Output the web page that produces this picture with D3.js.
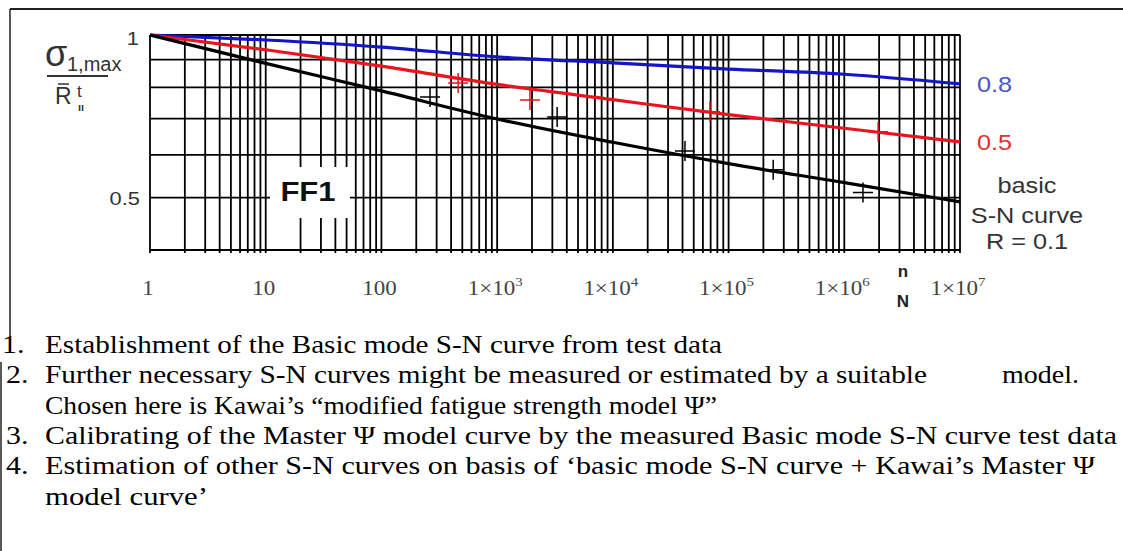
<!DOCTYPE html>
<html>
<head>
<meta charset="utf-8">
<script src="https://cdn.jsdelivr.net/npm/d3@7"></script>
<style>
  body { margin: 0; background: #fff; }
  /* the source picture is a little stretched sideways */
  .wide { transform-box: fill-box; transform: scaleX(1.15); }
  .wide.mid { transform-origin: center; }
  .wide.lft { transform-origin: left center; }
  .wide.rgt { transform-origin: right center; }
</style>
</head>
<body>
<div id="chart"></div>
<script>
// ---------- data ----------
// curve points at each decade of N
var curveN   = [1, 10, 100, 1e3, 1e4, 1e5, 1e6, 1e7];
var basicS   = [1, 0.886, 0.788, 0.699, 0.633, 0.578, 0.533, 0.491];  // R = 0.1 (black)
var r05S     = [1, 0.939, 0.876, 0.810, 0.759, 0.712, 0.672, 0.634];  // R = 0.5 (red)
var r08S     = [1, 0.979, 0.950, 0.911, 0.888, 0.865, 0.846, 0.812];  // R = 0.8 (blue)

// measured test points (crosses)
var basicTestN = [263, 3300, 42000, 243000, 1450000];
var basicTestS = [0.768, 0.705, 0.610, 0.563, 0.511];
var r05TestN   = [460, 1920, 69000, 1960000];
var r05TestS   = [0.815, 0.758, 0.721, 0.662];

var yGrid       = [0.4, 0.5, 0.6, 0.7, 0.8, 0.9, 1];
var yTickLabels = [{v: 1, t: "1"}, {v: 0.5, t: "0.5"}];
var xTickValues = [1, 10, 100, 1e3, 1e4, 1e5, 1e6, 1e7];
var xTickBase   = ["1", "10", "100", "1×10", "1×10", "1×10", "1×10", "1×10"];
var xTickExp    = ["", "", "", "3", "4", "5", "6", "7"];

var seriesNames  = ["basic", "r05", "r08"];
var seriesLabels = ["", "0.5", "0.8"];

var noteNums  = ["1.", "2.", "", "3.", "4.", ""];
var noteLines = [
  "Establishment of the Basic mode S-N curve from test data",
  "Further necessary S-N curves might be measured or estimated by a suitable",
  "Chosen here is Kawai\u2019s \u201cmodified fatigue strength model \u03a8\u201d",
  "Calibrating of the Master \u03a8 model curve by the measured Basic mode S-N curve test data",
  "Estimation of other S-N curves on basis of \u2018basic mode S-N curve + Kawai\u2019s Master \u03a8",
  "model curve\u2019"
];
// width each line takes in the picture
var noteWidths = [677, 882, 672, 1072, 1050, 163];

// ---------- layout ----------
var W = 1123, H = 551;
var plot = {left: 150, right: 960, top: 35, bottom: 250};
var sans = "'Liberation Sans', Arial, sans-serif";
var serif = "'Liberation Serif', 'Times New Roman', serif";
var blue = "#1414c8", red = "#e8141e", ink = "#333";

var svg = d3.select("#chart")
  .append("svg")
    .attr("width", W)
    .attr("height", H);

svg.append("rect").attr("width", W).attr("height", H).attr("fill", "#fff");

var x = d3.scaleLog()
  .domain([1, 1e7])
  .range([plot.left, plot.right]);

var y = d3.scaleLog()
  .domain([0.4, 1])
  .range([plot.bottom, plot.top]);

// frame of the figure
svg.append("line")
  .attr("x1", 10).attr("x2", W).attr("y1", 9).attr("y2", 9)
  .attr("stroke", "#222").attr("stroke-width", 2);
svg.append("line")
  .attr("x1", 10).attr("x2", 10).attr("y1", 9).attr("y2", 338)
  .attr("stroke", "#222").attr("stroke-width", 1.5);
svg.append("line")
  .attr("x1", 1).attr("x2", 1).attr("y1", 362).attr("y2", H)
  .attr("stroke", "#222").attr("stroke-width", 1.5);

// grid
var grid = svg.append("g").attr("stroke", "#000").attr("stroke-width", 1.8);

grid.selectAll("line.v")
  .data(x.ticks())
  .enter()
  .append("line")
    .attr("class", "v")
    .attr("x1", function(d) { return x(d) })
    .attr("x2", function(d) { return x(d) })
    .attr("y1", plot.top)
    .attr("y2", plot.bottom + 3);

grid.selectAll("line.h")
  .data(yGrid)
  .enter()
  .append("line")
    .attr("class", "h")
    .attr("x1", plot.left)
    .attr("x2", plot.right)
    .attr("y1", function(d) { return y(d) })
    .attr("y2", function(d) { return y(d) });

// white patch behind the FF1 label
svg.append("rect")
  .attr("x", 270).attr("y", 167)
  .attr("width", 80).attr("height", 51)
  .attr("fill", "#fff");

svg.append("text")
  .attr("class", "wide mid")
  .attr("x", 308).attr("y", 201)
  .attr("text-anchor", "middle")
  .style("font-family", sans)
  .style("font-weight", "bold")
  .style("font-size", "27px")
  .style("fill", "#111")
  .text("FF1");

// curves
var line = d3.line()
  .x(function(d) { return x(d.n) })
  .y(function(d) { return y(d.s) })
  .curve(d3.curveMonotoneX);

var curveData = [
  {name: "r08", color: blue, values: curveN.map(function(n, i) { return {n: n, s: r08S[i]} })},
  {name: "r05", color: red,  values: curveN.map(function(n, i) { return {n: n, s: r05S[i]} })},
  {name: "basic", color: "#000", values: curveN.map(function(n, i) { return {n: n, s: basicS[i]} })}
];

svg.selectAll("path.curve")
  .data(curveData)
  .enter()
  .append("path")
    .attr("class", function(d) { return "curve " + d.name })
    .attr("d", function(d) { return line(d.values) })
    .attr("fill", "none")
    .attr("stroke", function(d) { return d.color })
    .attr("stroke-width", 3.2);

// test data crosses
var testData = basicTestN.map(function(n, i) { return {n: n, s: basicTestS[i], c: "#000"} })
  .concat(r05TestN.map(function(n, i) { return {n: n, s: r05TestS[i], c: red} }));

svg.selectAll("path.cross")
  .data(testData)
  .enter()
  .append("path")
    .attr("class", "cross")
    .attr("d", function(d) {
      var cx = x(d.n), cy = y(d.s);
      return "M" + (cx - 10) + "," + cy + "H" + (cx + 10) + "M" + cx + "," + (cy - 10) + "V" + (cy + 10);
    })
    .attr("stroke", function(d) { return d.c })
    .attr("stroke-width", 1.5);

// y tick labels
svg.selectAll("text.ylab")
  .data(yTickLabels)
  .enter()
  .append("text")
    .attr("class", "ylab wide rgt")
    .attr("x", function(d) { return d.v === 1 ? 139 : 140 })
    .attr("y", function(d) { return y(d.v) + (d.v === 1 ? 10 : 7) })
    .attr("text-anchor", "end")
    .style("font-family", sans)
    .style("font-size", "19px")
    .style("fill", ink)
    .text(function(d) { return d.t });

// x tick labels (Mathcad style 1x10^n)
var xl = svg.selectAll("text.xlab")
  .data(xTickValues)
  .enter()
  .append("text")
    .attr("class", "xlab wide mid")
    .attr("x", function(d) { return x(d) - 2 })
    .attr("y", 295)
    .attr("text-anchor", "middle")
    .style("font-family", serif)
    .style("font-size", "20px")
    .style("fill", "#444");
xl.append("tspan").text(function(d, i) { return xTickBase[i] });
xl.append("tspan")
  .attr("dy", -9)
  .style("font-size", "13px")
  .text(function(d, i) { return xTickExp[i] });

// n / N label
svg.append("text").attr("x", 903).attr("y", 277).attr("text-anchor", "middle")
  .style("font-family", sans).style("font-weight", "bold").style("font-size", "17px")
  .style("fill", "#222").text("n");
svg.append("text").attr("x", 903).attr("y", 307).attr("text-anchor", "middle")
  .style("font-family", sans).style("font-weight", "bold").style("font-size", "17px")
  .style("fill", "#222").text("N");

// y axis title: sigma_1,max / R_II^t
var yt = svg.append("g").style("font-family", sans).style("fill", ink);
yt.append("text").attr("x", 45).attr("y", 66).style("font-size", "36px").text("\u03c3");
yt.append("text").attr("x", 67).attr("y", 71).style("font-size", "20px").text("1,max");
yt.append("line").attr("x1", 47).attr("x2", 108).attr("y1", 76).attr("y2", 76)
  .attr("stroke", ink).attr("stroke-width", 2);
yt.append("text").attr("x", 55).attr("y", 104).style("font-size", "23px").text("R");
yt.append("line").attr("x1", 58).attr("x2", 69).attr("y1", 84).attr("y2", 84)
  .attr("stroke", ink).attr("stroke-width", 1.5);
yt.append("text").attr("x", 77).attr("y", 97).style("font-size", "17px").text("t");
yt.append("text").attr("x", 78).attr("y", 111).style("font-size", "11px").style("font-weight", "bold").text("ıı");

// curve labels on the right
svg.selectAll("text.clab")
  .data(curveData.filter(function(d) { return d.name !== "basic" }))
  .enter()
  .append("text")
    .attr("class", "clab wide lft")
    .attr("x", 977)
    .attr("y", function(d) { return y(d.values[d.values.length - 1].s) + 8 })
    .style("font-family", sans)
    .style("font-size", "22px")
    .style("fill", function(d) { return d.name === "r08" ? "#4a55c8" : "#e43030" })
    .text(function(d) { return seriesLabels[seriesNames.indexOf(d.name)] });

var basicLabel = ["basic", "S-N curve", "R = 0.1"];
svg.selectAll("text.blab")
  .data(basicLabel)
  .enter()
  .append("text")
    .attr("class", "blab wide mid")
    .attr("x", 1027)
    .attr("y", function(d, i) { return [193, 223, 249][i] })
    .attr("text-anchor", "middle")
    .style("font-family", sans)
    .style("font-size", "22px")
    .style("fill", ink)
    .text(function(d) { return d });

// numbered notes under the chart
var notes = svg.append("g")
  .style("font-family", serif)
  .style("font-size", "26px")
  .style("fill", "#000");

notes.selectAll("text.num")
  .data(noteNums)
  .enter()
  .append("text")
    .attr("class", "num wide lft")
    .attr("x", function(d, i) { return i === 0 ? 2 : 6 })
    .attr("y", function(d, i) { return 353 + i * 30.3 })
    .text(function(d) { return d });

notes.selectAll("text.body")
  .data(noteLines)
  .enter()
  .append("text")
    .attr("class", "body")
    .attr("x", 45)
    .attr("y", function(d, i) { return 353 + i * 30.3 })
    .attr("textLength", function(d, i) { return noteWidths[i] })
    .attr("lengthAdjust", "spacingAndGlyphs")
    .text(function(d) { return d });

// the second line ends with a spaced out "model."
notes.append("text")
  .attr("x", 1002)
  .attr("y", 353 + 30.3)
  .attr("textLength", 77)
  .attr("lengthAdjust", "spacingAndGlyphs")
  .text("model.");
</script>
</body>
</html>
